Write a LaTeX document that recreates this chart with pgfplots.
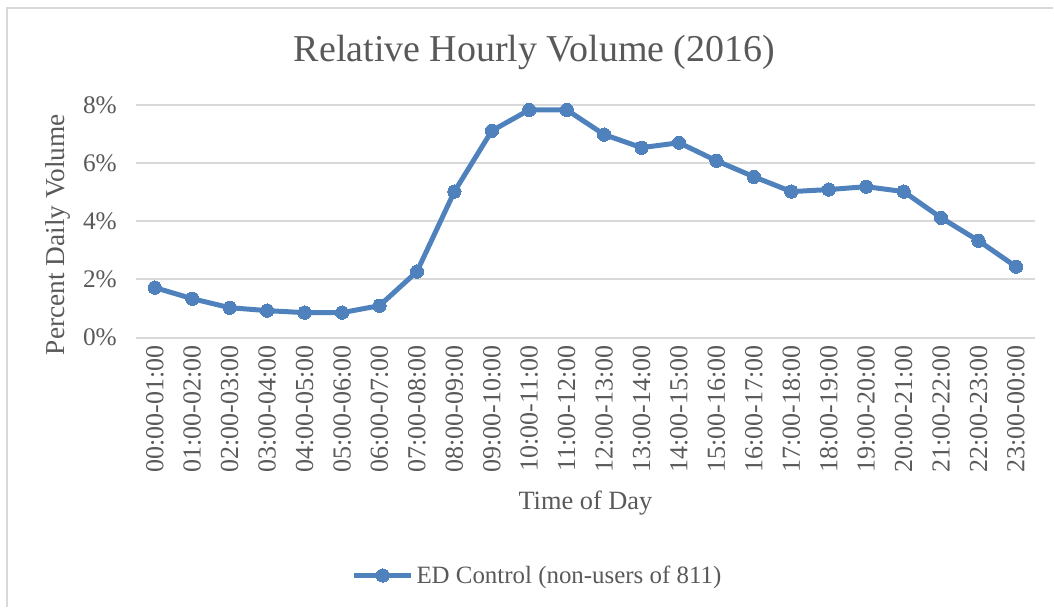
\documentclass[border=0pt]{standalone}
\usepackage{pgfplots}
\pgfplotsset{compat=1.18}
\usepackage{fontspec}
\setmainfont{Liberation Serif}
\definecolor{txt}{HTML}{595959}
\definecolor{gridc}{HTML}{D9D9D9}
\definecolor{ser}{HTML}{4F81BD}
\begin{document}
\begin{tikzpicture}
\path (0,0) rectangle (790.5pt,456pt);
\draw[gridc, line width=1.5pt] (5.25pt,0pt) -- (5.25pt,450pt) -- (790.5pt,450pt);
\node[txt, font=\fontsize{28.5}{32}\selectfont] at (401.25pt,417pt) {Relative Hourly Volume (2016)};
\node[txt, font=\fontsize{20.5}{24}\selectfont, rotate=90] at (43.5pt,279.75pt) {Percent Daily Volume};
\node[txt, font=\fontsize{19.8}{23}\selectfont] at (439.5pt,78pt) {Time of Day};
\begin{axis}[
  at={(102.19pt,202.5pt)}, anchor=south west,
  scale only axis, width=674.6pt, height=174.75pt,
  xmin=-0.5, xmax=23.5, ymin=0, ymax=8,
  axis line style={draw=none},
  tick style={draw=none},
  xmajorgrids=false, ymajorgrids=true, major grid style={color=gridc, line width=1.5pt},
  ytick={0,2,4,6,8},
  yticklabel={\pgfmathprintnumber{\tick}\%},
  /pgf/number format/assume math mode=true,
  yticklabel style={txt, font=\fontsize{19}{22}\selectfont, xshift=-11pt},
  xtick={0,...,23},
  xticklabels={00:00-01:00,01:00-02:00,02:00-03:00,03:00-04:00,04:00-05:00,05:00-06:00,06:00-07:00,07:00-08:00,08:00-09:00,09:00-10:00,10:00-11:00,11:00-12:00,12:00-13:00,13:00-14:00,14:00-15:00,15:00-16:00,16:00-17:00,17:00-18:00,18:00-19:00,19:00-20:00,20:00-21:00,21:00-22:00,22:00-23:00,23:00-00:00},
  xticklabel style={txt, font=\fontsize{19.5}{22}\selectfont, rotate=90, anchor=east, yshift=0pt, xshift=-2.5pt},
  legend style={at={(0.447,-1.0215)}, anchor=center, draw=none, fill=none, font=\fontsize{18.7}{22}\selectfont, text=txt, inner sep=0pt},
  legend image code/.code={\draw[#1, mark repeat=2, mark phase=2] plot coordinates {(0pt,0pt) (21.5pt,0pt) (43pt,0pt)};},
]
\addplot[ser, line width=3.75pt, mark=*, mark size=5pt, mark options={fill=ser, draw=ser, line width=0pt}] coordinates {
(0,1.72) (1,1.34) (2,1.03) (3,0.93) (4,0.86) (5,0.86) (6,1.10) (7,2.27)
(8,5.02) (9,7.11) (10,7.83) (11,7.83) (12,6.98) (13,6.53) (14,6.70) (15,6.08)
(16,5.53) (17,5.02) (18,5.09) (19,5.19) (20,5.02) (21,4.12) (22,3.33) (23,2.44)
};
\addlegendentry{ED Control (non-users of 811)}
\end{axis}
\end{tikzpicture}
\end{document}
